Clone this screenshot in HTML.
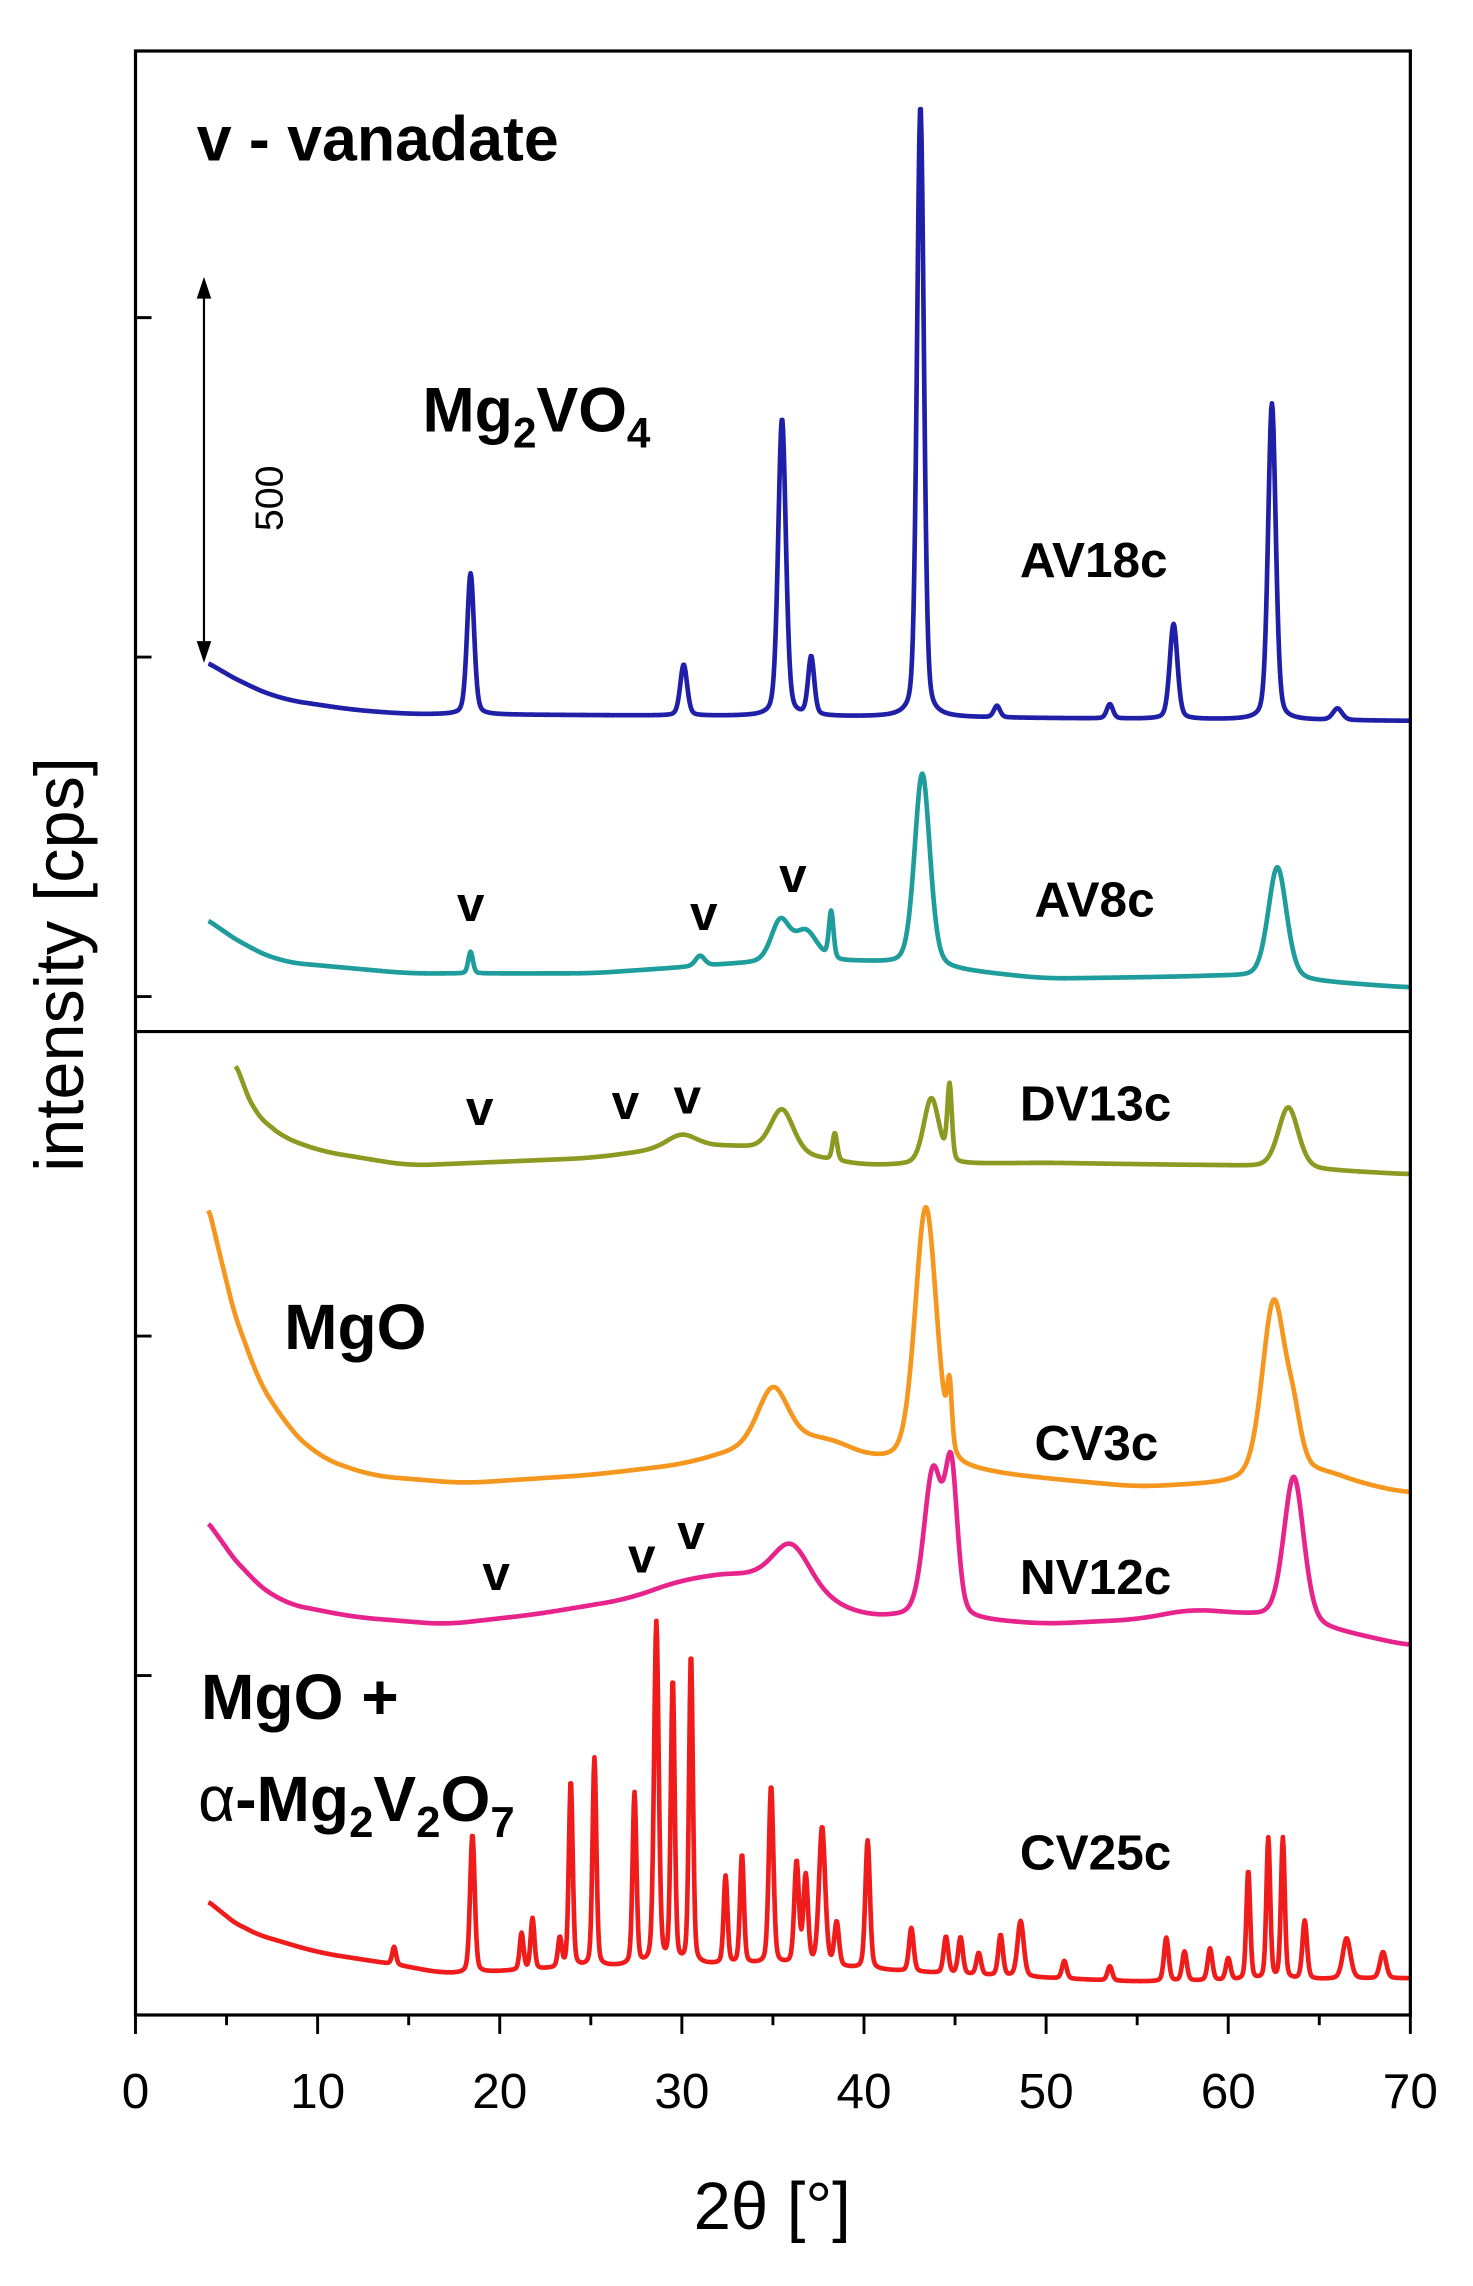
<!DOCTYPE html>
<html><head><meta charset="utf-8"><style>
html,body{margin:0;padding:0;background:#fff}
svg{display:block}
text{font-family:"Liberation Sans",Arial,sans-serif}
</style></head><body>
<svg id="chart" xmlns="http://www.w3.org/2000/svg" width="1473" height="2286" viewBox="0 0 1011 1569">
<rect x="0" y="0" width="1011" height="1569" fill="#fff"/>
<g id="series"></g>
<g id="axes">
<rect x="93" y="35" width="875" height="1348" fill="none" stroke="#000" stroke-width="2.2"/>
<line x1="93" y1="708" x2="968" y2="708" stroke="#000" stroke-width="2.2"/>
</g>
<g id="xticks"></g>
<g id="yticks"></g>
<text x="530" y="1530" font-size="46" text-anchor="middle">2θ [°]</text>
<text transform="translate(57,662) rotate(-90)" font-size="47" text-anchor="middle">intensity [cps]</text>
<text x="135" y="110" font-size="43" font-weight="bold">v - vanadate</text>
<text x="290" y="296" font-size="43" font-weight="bold">Mg<tspan font-size="29" dy="11">2</tspan><tspan dy="-11">VO</tspan><tspan font-size="29" dy="11">4</tspan></text>
<g>
<line x1="140" y1="200" x2="140" y2="445" stroke="#000" stroke-width="1.5"/>
<polygon points="140,190 135,205 145,205" fill="#000"/>
<polygon points="140,455 135,440 145,440" fill="#000"/>
</g>
<text transform="translate(194,342) rotate(-90)" font-size="27" text-anchor="middle">500</text>
<text x="700" y="396" font-size="34" font-weight="bold">AV18c</text>
<text x="710" y="629" font-size="34" font-weight="bold">AV8c</text>
<text x="700" y="769" font-size="34" font-weight="bold">DV13c</text>
<text x="710" y="1002" font-size="34" font-weight="bold">CV3c</text>
<text x="700" y="1094" font-size="34" font-weight="bold">NV12c</text>
<text x="700" y="1283" font-size="34" font-weight="bold">CV25c</text>
<text x="195" y="926" font-size="44" font-weight="bold">MgO</text>
<text x="138" y="1180" font-size="44" font-weight="bold">MgO +</text>
<text x="136" y="1250" font-size="44" font-weight="bold"><tspan font-weight="normal">α</tspan>-Mg<tspan font-size="30" dy="11">2</tspan><tspan dy="-11">V</tspan><tspan font-size="30" dy="11">2</tspan><tspan dy="-11">O</tspan><tspan font-size="30" dy="11">7</tspan></text>
<g id="vmarks"></g>
</svg>
<script>
// ---- data ----
const xTicks = [0,10,20,30,40,50,60,70];
const xMinorTicks = [5,15,25,35,45,55,65];
const yTicks = [500,1000,1500,2000,2500]; // cps positions of left ticks
const seriesNames = ["AV18c","AV8c","DV13c","CV3c","NV12c","CV25c"];
const seriesColors = ["#1f1fa8","#1f9c9c","#8c9a22","#f5961e","#e6248c","#f01c1c"];
const seriesStart = [4,4,5.5,4,4,4];
// background control points [2theta, cps]
const bgAV18c = [[4,1991],[6,1960],[8,1938],[12,1922],[15,1916],[40,1912],[70,1906]];
const bgAV8c = [[4,1612],[6,1575],[8,1551],[15,1534],[25,1534],[33,1548],[40,1551],[50,1526],[60,1530],[70,1513]];
const bgDV13c = [[5.5,1401],[6.5,1330],[7.5,1300],[10,1273],[15,1251],[25,1262],[29,1275],[33,1280],[40,1251],[50,1255],[60,1251],[70,1238]];
const bgCV3c = [[4,1191],[5,1079],[6,972],[8,876],[10,822],[13,794],[18,783],[25,795],[30,810],[33,830],[38,850],[40,820],[48,794],[55,777],[60,782],[65,800],[68,777],[70,768]];
const bgNV12c = [[4,725],[6,650],[8,607],[12,586],[17,575],[22,590],[27,612],[30,640],[33,650],[38,607],[40,586],[45,582],[50,575],[55,582],[58,597],[62,586],[68,554],[70,543]];
const bgCV25c = [[4,167],[6,124],[10,92],[15,71],[17,60],[25,71],[35,75],[45,60],[55,49],[70,54]];
// peaks [2theta, height cps, fwhm deg]
const pkAV18c = [[18.4,208,0.45],[30.1,75,0.45],[35.5,438,0.5],[37.1,86,0.4],[43.1,901,0.45],[47.3,17,0.4],[53.5,21,0.4],[57.0,140,0.5],[62.4,466,0.5],[66,17,0.6]];
const pkAV8c = [[18.4,32,0.3],[31,15,0.6],[35.4,60,1.2],[36.8,45,1.5],[38.2,69,0.3],[43.2,285,1.0],[62.7,165,1.2]];
const pkDV13c = [[30,20,2.0],[35.5,64,1.5],[38.4,40,0.3],[43.7,97,1.0],[44.7,110,0.3],[63.3,90,1.3]];
const pkCV3c = [[35,86,2.0],[43.4,380,1.4],[44.7,86,0.3],[62.5,258,1.5],[63.6,60,1.0]];
const pkNV12c = [[36,69,2.5],[43.8,215,1.2],[44.8,204,0.8],[63.6,215,1.3]];
const pkCV25c = [[14.2,26,0.25],[18.5,204,0.3],[21.2,54,0.25],[21.8,75,0.25],[23.3,43,0.25],[23.9,275,0.25],[25.2,307,0.25],[27.4,253,0.25],[28.6,504,0.3],[29.5,418,0.25],[30.5,457,0.25],[32.4,129,0.25],[33.3,161,0.25],[34.9,262,0.3],[36.3,150,0.3],[36.8,129,0.3],[37.7,204,0.4],[38.5,64,0.3],[40.2,189,0.3],[42.6,64,0.3],[44.5,54,0.3],[45.3,54,0.3],[46.3,32,0.3],[47.5,60,0.3],[48.6,82,0.4],[51,26,0.3],[53.5,21,0.3],[56.6,64,0.3],[57.6,43,0.3],[59,47,0.3],[60,32,0.3],[61.1,161,0.25],[62.2,208,0.25],[63,208,0.25],[64.2,86,0.3],[66.5,60,0.5],[68.5,39,0.4]];
// vanadate marks [2theta, cps]
const vMarks = [[18.4,1611],[31.2,1598],[36.1,1654],[18.9,1311],[26.9,1320],[30.3,1328],[19.8,626],[27.8,652],[30.5,686]];

const bgs=[bgAV18c,bgAV8c,bgDV13c,bgCV3c,bgNV12c,bgCV25c];
const pks=[pkAV18c,pkAV8c,pkDV13c,pkCV3c,pkNV12c,pkCV25c];

// ---- axes ----
const X0=93,X1=968,Y0=1383,PXPERCPS=0.466;
const xs=v=>X0+(v-0)*(X1-X0)/70;
const ys=v=>Y0-v*PXPERCPS;
const NS="http://www.w3.org/2000/svg";
function mk(tag,attrs,parent){const e=document.createElementNS(NS,tag);for(const k in attrs)e.setAttribute(k,attrs[k]);parent.appendChild(e);return e;}

const xg=document.getElementById('xticks');
xTicks.forEach(t=>{
  const l=mk('line',{x1:xs(t),x2:xs(t),y1:Y0,y2:Y0+13,stroke:'#000','stroke-width':2},xg);
  
  
  const tx=mk('text',{x:xs(t),y:1447,'font-size':34,'text-anchor':'middle'},xg);
  tx.textContent=t;
  
  
});
xMinorTicks.forEach(t=>{
  const l=mk('line',{x1:xs(t),x2:xs(t),y1:Y0,y2:Y0+7,stroke:'#000','stroke-width':2},xg);
  
  
});
const yg=document.getElementById('yticks');
yTicks.forEach(t=>{
  const l=mk('line',{x1:X0,x2:X0+11,y1:ys(t),y2:ys(t),stroke:'#000','stroke-width':2},yg);
  
  
});

// ---- series ----
function bgLin(bg,x){
  if(x<=bg[0][0])return bg[0][1];
  for(let i=0;i<bg.length-1;i++){
    const a=bg[i],b=bg[i+1];
    if(x<=b[0])return a[1]+(b[1]-a[1])*(x-a[0])/(b[0]-a[0]);
  }
  return bg[bg.length-1][1];
}
function bgAt(bg,x){
  // smoothed background: average of linear interpolation over a window
  const w=Math.min(1.2,Math.max(0.2,(x-bg[0][0])*0.6));
  let s=0,n=0;
  for(let k=-6;k<=6;k++){s+=bgLin(bg,x+k*w/6);n++;}
  return s/n;
}
function pkAt(pk,x){
  let s=0;
  pk.forEach(p=>{const d=(x-p[0])/(p[2]/2);s+=p[1]*(0.7*Math.exp(-Math.LN2*d*d)+0.3/(1+d*d));});
  return s;
}
const sg=document.getElementById('series');
seriesNames.forEach((name,i)=>{
  let d='';
  for(let x=seriesStart[i];x<=70.0001;x+=0.04){
    const v=bgAt(bgs[i],x)+pkAt(pks[i],x);
    d+=(d?'L':'M')+xs(x).toFixed(2)+' '+ys(v).toFixed(2);
  }
  const p=mk('path',{d:d,fill:'none',stroke:seriesColors[i],'stroke-width':3.2,'stroke-linejoin':'round'},sg);
  
  
});

const vg=document.getElementById('vmarks');
vMarks.forEach(m=>{
  const t=mk('text',{x:xs(m[0]),y:ys(m[1]),'font-size':34,'font-weight':'bold','text-anchor':'middle'},vg);
  t.textContent='v';
  
  
});
</script>
</body></html>
